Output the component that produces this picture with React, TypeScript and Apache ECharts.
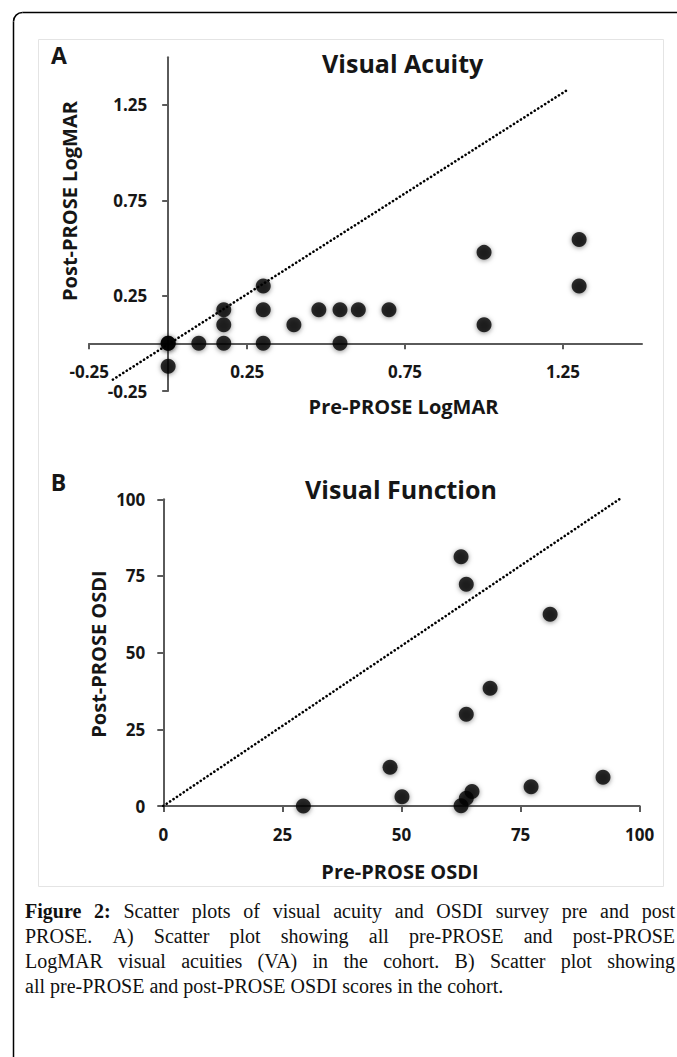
import React, { useEffect, useRef } from "react";
import * as echarts from "echarts";

const W = 677;
const H = 1057;

// ---------- Panel A: Visual Acuity (LogMAR) ----------
const preLogMAR = [0, 0, 0, 0.097, 0.176, 0.176, 0.176, 0.301, 0.301, 0.301, 0.398, 0.477, 0.544, 0.544, 0.602, 0.699, 1.0, 1.0, 1.301, 1.301];
const postLogMAR = [0, 0, -0.12, 0, 0, 0.097, 0.176, 0, 0.176, 0.301, 0.097, 0.176, 0.176, 0, 0.176, 0.176, 0.477, 0.097, 0.544, 0.301];
const logmarRange = [-0.25, 1.5];
const logmarTicks = [-0.25, 0.25, 0.75, 1.25];
const refLineA_x = [-0.175, 1.26];
const refLineA_y = [-0.19, 1.325];

// ---------- Panel B: Visual Function (OSDI) ----------
const preOSDI = [29.4, 47.6, 50.1, 62.5, 62.5, 63.6, 63.6, 63.6, 64.8, 68.6, 77.2, 81.2, 92.3];
const postOSDI = [0, 12.6, 3.0, 81.3, 0.1, 72.3, 29.9, 2.5, 4.7, 38.4, 6.3, 62.5, 9.4];
const osdiRange = [0, 100];
const osdiStep = 25;
const refLineB_x = [0, 95.9];
const refLineB_y = [0, 100.2];

// ---------- Texts ----------
const titleA = "Visual Acuity";
const titleB = "Visual Function";
const xNameA = "Pre-PROSE LogMAR";
const yNameA = "Post-PROSE LogMAR";
const xNameB = "Pre-PROSE OSDI";
const yNameB = "Post-PROSE OSDI";
const captionBold = "Figure 2:";
const captionLines = [
  "Figure 2: Scatter plots of visual acuity and OSDI survey pre and post",
  "PROSE. A) Scatter plot showing all pre-PROSE and post-PROSE",
  "LogMAR visual acuities (VA) in the cohort. B) Scatter plot showing",
  "all pre-PROSE and post-PROSE OSDI scores in the cohort.",
];

const SANS = '"Open Sans", "Noto Sans", sans-serif';
const SERIF = '"Liberation Serif", "DejaVu Serif", serif';
const AXIS = "#5a5a5a";
const INK = "#161616";

const gridA = { left: 89.2, top: 57.3, width: 552.8, height: 333.7 };
const gridB = { left: 163.3, top: 499.3, width: 476.4, height: 306.7 };

function zip(a: number[], b: number[]) {
  return a.map((v, i) => [v, b[i]]);
}

function buildCaption(): any[] {
  const canvas = document.createElement("canvas");
  const ctx = canvas.getContext("2d")!;
  const left = 25;
  const right = 675;
  const targetW = right - left;
  const fs = 20;
  const fontFor = (bold: boolean) => `${bold ? "bold " : ""}${fs}px ${SERIF}`;
  const boldWords = captionBold.split(" ");
  const firstBaseline = 918;
  const pitch = 25;
  const els: any[] = [];
  captionLines.forEach((line, li) => {
    const words = line.split(" ");
    const widths = words.map((w, wi) => {
      ctx.font = fontFor(li === 0 && wi < boldWords.length);
      return ctx.measureText(w).width;
    });
    ctx.font = fontFor(false);
    const sp = ctx.measureText(" ").width;
    const sum = widths.reduce((a, b) => a + b, 0);
    const last = li === captionLines.length - 1;
    const gap = last ? sp : (targetW - sum) / (words.length - 1);
    let x = left;
    words.forEach((w, wi) => {
      const b = li === 0 && wi < boldWords.length;
      els.push({
        type: "text",
        x,
        y: firstBaseline + li * pitch - 0.34 * fs,
        silent: true,
        style: {
          text: w,
          font: fontFor(b),
          fill: "#111",
          align: "left",
          verticalAlign: "middle",
        },
      });
      x += widths[wi] + gap;
    });
  });
  return els;
}

const lineStyleAxis = { color: AXIS, width: 2 };

const labelStyle = {
  fontFamily: SANS,
  fontWeight: "bold" as const,
  fontSize: 17,
  color: INK,
};

const pointStyle = {
  color: "#000",
  shadowBlur: 5,
  shadowColor: "rgba(0,0,0,0.55)",
  shadowOffsetY: 1,
};

const dotted = {
  color: "#000",
  width: 2.6,
  type: [0.1, 4] as any,
  cap: "round" as const,
};

export default function App() {
  const ref = useRef<HTMLDivElement>(null);
  useEffect(() => {
    document.body.style.margin = "0";
    const chart = echarts.init(ref.current!, null, { renderer: "svg", width: W, height: H });
    const text = (t: string, x: number, y: number, fs: number, rot = 0) => ({
      type: "text",
      x,
      y,
      rotation: rot,
      silent: true,
      style: {
        text: t,
        font: `bold ${fs}px ${SANS}`,
        fill: INK,
        align: "center",
        verticalAlign: "middle",
      },
    });
    // shift panel A axes so they cross at 0 (line, ticks and labels move together)
    const span = logmarRange[1] - logmarRange[0];
    const xAxisOffsetA = -((0 - logmarRange[0]) / span) * gridA.height;
    const yAxisOffsetA = -((0 - logmarRange[0]) / span) * gridA.width;

    const option: any = {
      animation: false,
      backgroundColor: "#fff",
      grid: [gridA, gridB],
      xAxis: [
        {
          type: "value",
          gridIndex: 0,
          min: logmarRange[0],
          max: logmarRange[1],
          offset: xAxisOffsetA,
          splitLine: { show: false },
          axisLine: { show: true, onZero: false, lineStyle: lineStyleAxis },
          axisTick: { show: true, length: 6, lineStyle: lineStyleAxis, customValues: logmarTicks },
          axisLabel: { ...labelStyle, margin: 20, customValues: logmarTicks },
        },
        {
          type: "value",
          gridIndex: 1,
          min: osdiRange[0],
          max: osdiRange[1],
          interval: osdiStep,
          splitLine: { show: false },
          axisLine: { show: true, onZero: false, lineStyle: lineStyleAxis },
          axisTick: { show: true, length: 6, lineStyle: lineStyleAxis },
          axisLabel: { ...labelStyle, margin: 20 },
        },
      ],
      yAxis: [
        {
          type: "value",
          gridIndex: 0,
          min: logmarRange[0],
          max: logmarRange[1],
          offset: yAxisOffsetA,
          splitLine: { show: false },
          axisLine: { show: true, onZero: false, lineStyle: lineStyleAxis },
          axisTick: { show: true, length: 6, lineStyle: lineStyleAxis, customValues: logmarTicks },
          axisLabel: { ...labelStyle, margin: 21, customValues: logmarTicks },
        },
        {
          type: "value",
          gridIndex: 1,
          min: osdiRange[0],
          max: osdiRange[1],
          interval: osdiStep,
          splitLine: { show: false },
          axisLine: { show: true, onZero: false, lineStyle: lineStyleAxis },
          axisTick: { show: true, length: 6, lineStyle: lineStyleAxis },
          axisLabel: { ...labelStyle, margin: 18 },
        },
      ],
      series: [
        {
          type: "line",
          xAxisIndex: 0,
          yAxisIndex: 0,
          data: zip(refLineA_x, refLineA_y),
          symbol: "none",
          lineStyle: dotted,
          silent: true,
          z: 1,
        },
        {
          type: "scatter",
          xAxisIndex: 0,
          yAxisIndex: 0,
          data: zip(preLogMAR, postLogMAR),
          symbolSize: 15,
          itemStyle: pointStyle,
          z: 3,
        },
        {
          type: "line",
          xAxisIndex: 1,
          yAxisIndex: 1,
          data: zip(refLineB_x, refLineB_y),
          symbol: "none",
          lineStyle: dotted,
          silent: true,
          z: 1,
        },
        {
          type: "scatter",
          xAxisIndex: 1,
          yAxisIndex: 1,
          data: zip(preOSDI, postOSDI),
          symbolSize: 15,
          itemStyle: pointStyle,
          z: 3,
        },
      ],
      graphic: [
        {
          type: "line",
          silent: true,
          shape: { x1: 22.5, y1: 12.5, x2: 700, y2: 12.5 },
          style: { stroke: "#000", lineWidth: 1.5 },
        },
        {
          type: "line",
          silent: true,
          shape: { x1: 13.5, y1: 21.5, x2: 13.5, y2: 1100 },
          style: { stroke: "#000", lineWidth: 1.5 },
        },
        {
          type: "arc",
          silent: true,
          shape: { cx: 22.5, cy: 21.5, r: 9, startAngle: Math.PI, endAngle: Math.PI * 1.5 },
          style: { stroke: "#000", lineWidth: 1.5, fill: "none" },
        },
        {
          type: "rect",
          silent: true,
          z: -9,
          shape: { x: 38.5, y: 39.5, width: 625, height: 847 },
          style: { fill: "none", stroke: "#e4e4e4", lineWidth: 1 },
        },
        text("A", 59, 55, 23),
        text(titleA, 402.7, 62.5, 25),
        text(xNameA, 403.5, 406.5, 20),
        text(yNameA, 69, 201, 20, Math.PI / 2),
        text("B", 58.5, 481.5, 23),
        text(titleB, 401, 489, 25),
        text(xNameB, 400, 871.5, 20),
        text(yNameB, 98.3, 654, 20, Math.PI / 2),
        ...buildCaption(),
      ],
    };
    chart.setOption(option);
    return () => chart.dispose();
  }, []);
  return <div ref={ref} style={{ width: W, height: H }} />;
}
